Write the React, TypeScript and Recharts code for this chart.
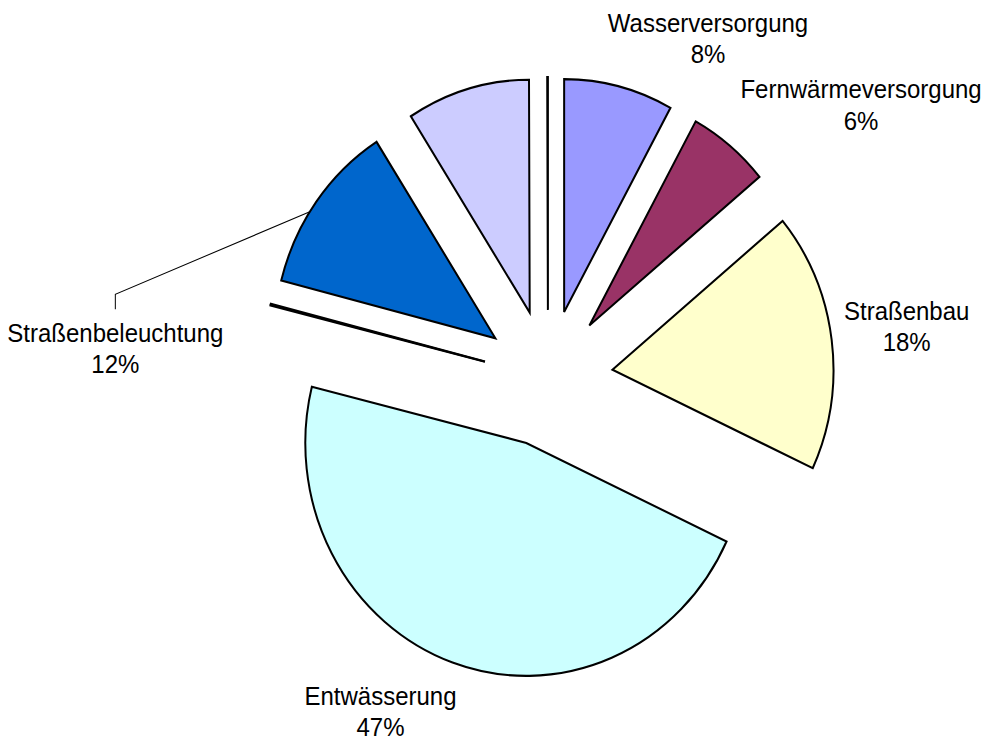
import { Cell, Pie, PieChart } from "recharts";

// Excel-style exploded pie; zero-ish rows show up as thin lines
const categories = [
  "Wasserversorgung",
  "Fernwärmeversorgung",
  "Straßenbau",
  "Entwässerung",
  "Gasversorgung",
  "Telekommunikation",
  "Straßenbeleuchtung",
  "Sonstiges",
  "Stromversorgung",
];
const shares = [8, 6, 18, 47, 0.05, 0.05, 12, 9, 0.05];
const colors = ["#9999FF", "#993366", "#FFFFCC", "#CCFFFF", "#660066", "#FF8080", "#0066CC", "#CCCCFF", "#000080"];
const shownLabels = ["Wasserversorgung", "Fernwärmeversorgung", "Straßenbau", "Entwässerung", "Straßenbeleuchtung"];

const data = categories.map((name, i) => ({ name, value: shares[i] }));

const W = 986;
const H = 704;
const CX = 548;
const CY = 359;
const R = 221;
const EXPLODE = 65;
const FONT = "'Liberation Sans', Arial, sans-serif";
const RAD = Math.PI / 180;

// label position relative to the outer arc point at the slice's mid angle
const labelNudge: Record<string, [number, number]> = {
  Wasserversorgung: [89, -52],
  Fernwärmeversorgung: [131, -45],
  Straßenbau: [75, -19],
  Entwässerung: [-72, 40],
  Straßenbeleuchtung: [-201, 133],
};
const withLeader = ["Straßenbeleuchtung"];

const total = shares.reduce((a, b) => a + b, 0);
const midAngles = shares.map((v, i) => {
  const before = shares.slice(0, i).reduce((a, b) => a + b, 0);
  return 90 - (360 * (before + v / 2)) / total;
});

const renderLabel = (k: number) => (props: any) => {
  const { cx, cy, midAngle, outerRadius, index, name, percent } = props;
  if (index !== k || !shownLabels.includes(name)) return null;
  const px = cx + outerRadius * Math.cos(-midAngle * RAD);
  const py = cy + outerRadius * Math.sin(-midAngle * RAD);
  const [dx, dy] = labelNudge[name];
  const tx = px + dx;
  const ty = py + dy;
  let leader = null;
  if (withLeader.includes(name)) {
    const a = (midAngle + 3) * RAD;
    const sx = cx + outerRadius * Math.cos(-a);
    const sy = cy + outerRadius * Math.sin(-a);
    leader = (
      <polyline points={`${sx},${sy} ${tx},${ty - 45} ${tx},${ty - 31}`} fill="none" stroke="#000" strokeWidth={1} />
    );
  }
  return (
    <g>
      {leader}
      <text x={tx} y={ty} textAnchor="middle" fontSize={24} fontFamily={FONT} fill="#000">
        <tspan x={tx}>{name}</tspan>
        <tspan x={tx} dy={29.5}>{Math.round(percent * 100)}%</tspan>
      </text>
    </g>
  );
};

export default function App() {
  return (
    <div style={{ position: "absolute", left: 0, top: 0, width: W, height: H, transform: "scaleY(1.054)", transformOrigin: "0 0", background: "#fff" }}>
      <PieChart width={W} height={H} margin={{ top: 0, right: 0, bottom: 0, left: 0 }}>
        {data.map((_, k) => (
          <Pie
            key={k}
            data={data}
            dataKey="value"
            nameKey="name"
            cx={CX + EXPLODE * Math.cos(midAngles[k] * RAD)}
            cy={CY - EXPLODE * Math.sin(midAngles[k] * RAD)}
            outerRadius={R}
            startAngle={90}
            endAngle={-270}
            isAnimationActive={false}
            label={renderLabel(k)}
            labelLine={false}
          >
            {data.map((d, i) => (
              <Cell
                key={d.name}
                fill={i === k ? colors[i] : "none"}
                stroke={i === k ? "#000" : "none"}
                strokeWidth={2}
              />
            ))}
          </Pie>
        ))}
      </PieChart>
    </div>
  );
}
